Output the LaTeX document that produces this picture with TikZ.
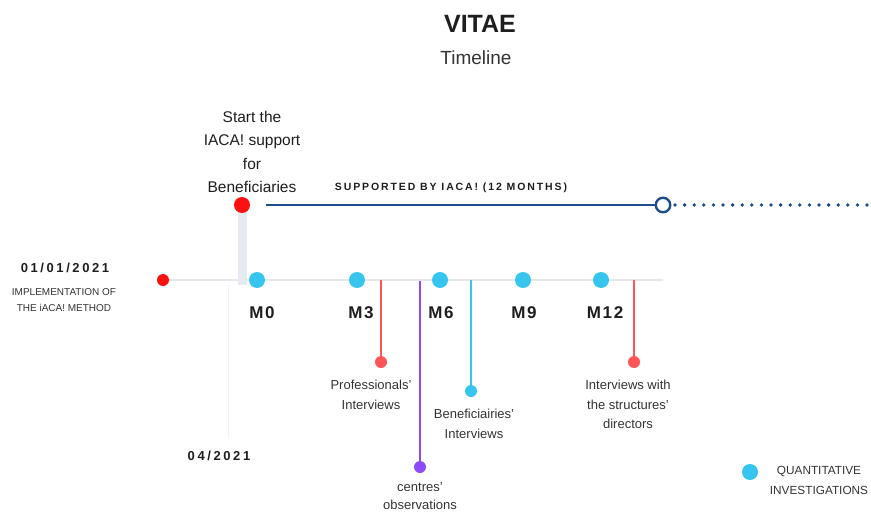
\documentclass[tikz,border=0pt]{standalone}
\usepackage{fontspec}
\setmainfont{Liberation Sans}
\newfontfamily\widefont[LetterSpace=20]{Liberation Sans}
\newfontfamily\widerfont[LetterSpace=18]{Liberation Sans}
\newfontfamily\monthfont[LetterSpace=10]{Liberation Sans}
\usetikzlibrary{positioning}

\definecolor{startred}{HTML}{FF1010}
\definecolor{stemred}{HTML}{FF5558}
\definecolor{qcyan}{HTML}{35C5EE}
\definecolor{obspurple}{HTML}{8B4CF7}
\definecolor{navy}{HTML}{1E4D8C}
\definecolor{railgray}{HTML}{E5E7EB}
\definecolor{barblue}{HTML}{E6EBF2}
\definecolor{guidegray}{HTML}{EEF0F3}
\definecolor{textdark}{HTML}{1E1E1E}
\definecolor{textgray}{HTML}{333333}

\begin{document}
\begin{tikzpicture}[
        x=1pt, y=-1pt,
        % Define styles for consistency
        bigdot/.style={circle, fill=#1, inner sep=0pt, minimum size=16pt},
        smalldot/.style={circle, fill=#1, inner sep=0pt, minimum size=12pt},
        stem/.style={#1, line width=1.6pt},
        note/.style={align=center, text=textgray, inner sep=0pt, font=\fontsize{13}{19.5}\selectfont},
        month/.style={text=textdark, font=\monthfont\bfseries\fontsize{17}{17}\selectfont},
        datelabel/.style={text=textdark, font=\widefont\bfseries\fontsize{13}{13}\selectfont}
    ]
        \clip (0,0) rectangle (871,514);

        % --- Coordinates ---
        % Main rail
        \coordinate (impl) at (163,280);
        \coordinate (railend) at (663,280);
        \coordinate (m0) at (257,280);
        \coordinate (m3) at (357,280);
        \coordinate (m6) at (440,280);
        \coordinate (m9) at (523,280);
        \coordinate (m12) at (601,280);

        % Support line
        \coordinate (start) at (242,205);
        \coordinate (barfoot) at (242,285);
        \coordinate (open) at (663,205);
        \coordinate (dotsend) at (880,205);

        % Thin guide down to 04/2021
        \coordinate (guidetop) at (228,285);
        \coordinate (guidefoot) at (228,437);

        % Stems
        \coordinate (prostem) at (381,280);
        \coordinate (pro) at (381,362);
        \coordinate (obsstem) at (420,281);
        \coordinate (obs) at (420,467);
        \coordinate (benstem) at (471,280);
        \coordinate (ben) at (471,391);
        \coordinate (dirstem) at (634,280);
        \coordinate (dir) at (634,362);

        % --- Draw Edges (drawn first so they appear behind nodes) ---
        \draw[railgray, line width=2pt] (impl) -- (railend);
        \draw[barblue, line width=9pt] (start) -- (barfoot);
        \draw[guidegray, line width=1pt] (guidetop) -- (guidefoot);
        \draw[navy, line width=2.4pt, shorten <=24pt, shorten >=7pt] (start) -- (open);
        \draw[navy, line width=3.8pt, line cap=round, dash pattern=on 0pt off 9.6pt, shorten <=12pt] (open) -- (dotsend);

        \draw[stem=stemred] (prostem) -- (pro);
        \draw[stem=obspurple] (obsstem) -- (obs);
        \draw[stem=qcyan] (benstem) -- (ben);
        \draw[stem=stemred] (dirstem) -- (dir);

        % --- Draw Nodes ---
        \node[smalldot=startred] (impldot) at (impl) {};
        \node[bigdot=startred] (startdot) at (start) {};
        \node[circle, draw=navy, line width=2.4pt, fill=white, inner sep=0pt, minimum size=14.5pt] (opendot) at (open) {};

        \node[bigdot=qcyan] (m0dot) at (m0) {};
        \node[bigdot=qcyan] (m3dot) at (m3) {};
        \node[bigdot=qcyan] (m6dot) at (m6) {};
        \node[bigdot=qcyan] (m9dot) at (m9) {};
        \node[bigdot=qcyan] (m12dot) at (m12) {};

        \node[smalldot=stemred] (prodot) at (pro) {};
        \node[smalldot=obspurple] (obsdot) at (obs) {};
        \node[smalldot=qcyan] (bendot) at (ben) {};
        \node[smalldot=stemred] (dirdot) at (dir) {};

        % --- Labels ---
        \node[text=textdark, font=\bfseries\fontsize{25}{25}\selectfont] (title) at (480,24) {VITAE};
        \node[text=textgray, font=\fontsize{19}{19}\selectfont] (subtitle) at (476,58) {Timeline};

        \node[note, text=textdark, font=\fontsize{15.5}{23.3}\selectfont] (startlbl) at (252,152) {Start the\\IACA! support\\for\\Beneficiaries};
        \node[text=textdark, font=\widerfont\bfseries\fontsize{10.5}{10.5}\selectfont] (supportlbl) at (451,188) {SUPPORTED BY IACA! (12 MONTHS)};

        \node[datelabel] (datelbl) at (65,268) {01/01/2021};
        \node[note, font=\fontsize{10}{16}\selectfont] (impllbl) at (64,300) {IMPLEMENTATION OF\\THE iACA! METHOD};
        \node[datelabel] (aprlbl) at (219,456) {04/2021};

        \node[month] (m0lbl) at (262,313) {M0};
        \node[month] (m3lbl) at (361,313) {M3};
        \node[month] (m6lbl) at (441,313) {M6};
        \node[month] (m9lbl) at (524,313) {M9};
        \node[month] (m12lbl) at (605,313) {M12};

        \node[note, below=12pt of prodot, xshift=-10pt] (prolbl) {Professionals'\\Interviews};
        \node[note, below=9pt of obsdot, font=\fontsize{13}{18.5}\selectfont] (obslbl) {centres'\\observations};
        \node[note, below=12pt of bendot, xshift=3pt] (benlbl) {Beneficiairies'\\Interviews};
        \node[note, below=12pt of dirdot, xshift=-6pt] (dirlbl) {Interviews with\\the structures'\\directors};

        % --- Legend ---
        \node[bigdot=qcyan] (legdot) at (750,472) {};
        \node[note, font=\fontsize{11.8}{20}\selectfont] (leglbl) at (819,480) {QUANTITATIVE\\INVESTIGATIONS};

    \end{tikzpicture}
\end{document}
